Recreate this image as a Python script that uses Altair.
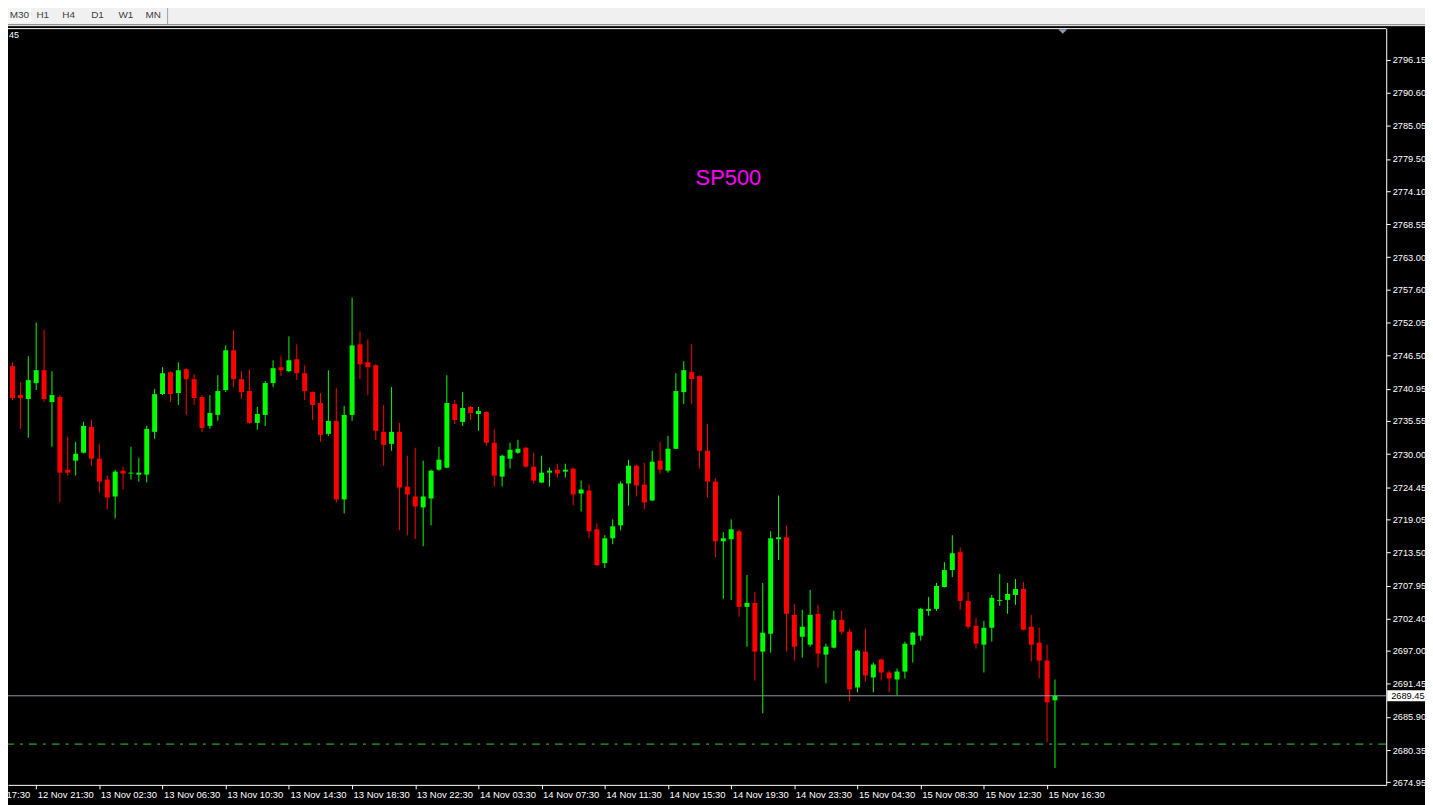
import altair as alt
import pandas as pd

# ---------------- data ----------------
opens = [2744.73, 2739.89, 2739.23, 2741.90, 2744.06, 2738.73, 2739.56, 2727.38, 2728.89, 2730.22,
         2734.56, 2729.22, 2725.72, 2722.88, 2727.22, 2726.72, 2726.55, 2726.55, 2733.72, 2740.06,
         2743.73, 2740.23, 2744.23, 2742.56, 2739.56, 2734.72, 2736.56, 2740.73, 2747.40, 2742.56,
         2740.56, 2735.22, 2736.56, 2741.90, 2744.56, 2743.90, 2745.90, 2743.56, 2740.39, 2738.56,
         2733.39, 2735.56, 2722.38, 2736.56, 2748.40, 2745.40, 2744.90, 2733.72, 2731.72, 2733.72,
         2724.55, 2722.88, 2721.05, 2722.55, 2727.38, 2727.72, 2738.39, 2735.39, 2737.89, 2736.72,
         2737.06, 2731.89, 2726.22, 2729.22, 2730.22, 2731.05, 2727.88, 2725.22, 2726.88, 2727.38,
         2727.05, 2727.55, 2723.38, 2723.88, 2717.38, 2711.70, 2715.87, 2718.04, 2725.05, 2728.05,
         2724.88, 2722.21, 2728.89, 2727.22, 2730.89, 2740.39, 2743.73, 2743.06, 2730.55, 2725.38,
         2715.37, 2715.71, 2717.04, 2704.37, 2705.03, 2696.86, 2699.86, 2715.71, 2716.04, 2703.03,
         2699.36, 2698.03, 2703.20, 2696.36, 2697.53, 2702.20, 2700.20, 2690.85, 2696.86, 2692.52,
         2695.53, 2693.36, 2692.19, 2693.52, 2698.03, 2699.53, 2703.70, 2704.03, 2707.70, 2710.54,
         2713.54, 2705.37, 2701.20, 2698.03, 2700.86, 2705.37, 2705.53, 2706.37, 2707.37, 2701.03,
         2698.36, 2695.36, 2688.69]
highs = [2745.40, 2742.06, 2746.40, 2752.07, 2750.90, 2743.90, 2739.89, 2732.89, 2732.05, 2735.39,
         2735.72, 2731.72, 2726.38, 2727.38, 2727.88, 2731.22, 2729.39, 2734.72, 2740.90, 2744.56,
         2743.90, 2745.40, 2744.40, 2743.40, 2739.89, 2739.89, 2743.23, 2748.23, 2750.74, 2743.90,
         2744.23, 2737.89, 2742.23, 2745.73, 2746.40, 2749.74, 2748.40, 2744.90, 2740.50, 2740.23,
         2744.06, 2741.06, 2738.06, 2756.24, 2750.57, 2749.23, 2745.06, 2738.23, 2741.23, 2735.22,
         2729.72, 2731.05, 2728.89, 2727.38, 2731.22, 2743.23, 2739.06, 2740.39, 2738.06, 2737.89,
         2737.20, 2734.22, 2729.89, 2731.89, 2732.39, 2731.22, 2730.22, 2729.72, 2727.72, 2728.38,
         2728.38, 2727.72, 2725.55, 2724.88, 2718.38, 2716.38, 2719.04, 2725.38, 2729.05, 2728.20,
         2728.55, 2730.55, 2732.05, 2733.06, 2743.56, 2745.57, 2748.40, 2743.23, 2735.06, 2725.88,
         2716.88, 2719.04, 2717.38, 2709.70, 2706.87, 2708.37, 2717.04, 2723.05, 2718.04, 2704.87,
         2703.87, 2707.20, 2704.70, 2698.19, 2703.70, 2703.70, 2700.70, 2697.20, 2700.70, 2695.02,
         2695.70, 2693.70, 2694.02, 2698.53, 2700.20, 2704.20, 2706.03, 2708.37, 2711.87, 2716.38,
         2714.37, 2706.87, 2702.53, 2702.03, 2706.37, 2709.87, 2708.37, 2709.04, 2708.54, 2703.03,
         2700.86, 2698.03, 2692.19]
lows = [2739.06, 2734.22, 2732.72, 2740.73, 2738.73, 2731.22, 2721.88, 2726.38, 2726.38, 2730.10,
        2728.05, 2723.55, 2720.71, 2719.21, 2724.05, 2725.72, 2725.38, 2725.22, 2732.55, 2739.89,
        2738.73, 2738.23, 2736.56, 2738.23, 2733.72, 2734.22, 2735.56, 2740.39, 2741.23, 2739.23,
        2735.10, 2734.06, 2734.72, 2741.23, 2743.06, 2743.73, 2742.40, 2739.06, 2735.72, 2732.05,
        2733.06, 2721.88, 2720.04, 2735.56, 2742.56, 2739.89, 2732.39, 2728.05, 2730.55, 2717.21,
        2716.38, 2715.71, 2714.54, 2718.04, 2727.20, 2727.60, 2735.06, 2734.72, 2735.72, 2733.89,
        2731.39, 2724.55, 2724.55, 2727.55, 2730.05, 2727.72, 2725.05, 2725.10, 2724.55, 2726.05,
        2726.05, 2721.38, 2720.38, 2715.87, 2711.20, 2710.87, 2714.87, 2717.21, 2721.38, 2722.88,
        2720.71, 2722.10, 2726.72, 2726.88, 2730.80, 2738.39, 2738.39, 2727.55, 2722.71, 2712.71,
        2705.70, 2705.53, 2702.70, 2697.69, 2692.02, 2686.52, 2696.69, 2712.21, 2696.86, 2695.36,
        2695.86, 2697.69, 2694.19, 2691.52, 2697.40, 2699.70, 2688.52, 2690.02, 2691.86, 2690.02,
        2692.02, 2690.02, 2689.52, 2692.36, 2695.02, 2698.70, 2702.87, 2703.70, 2707.60, 2709.37,
        2703.87, 2700.70, 2697.36, 2693.36, 2698.53, 2704.53, 2703.20, 2704.70, 2700.40, 2695.19,
        2692.36, 2681.68, 2677.34]
closes = [2739.39, 2739.39, 2742.40, 2744.06, 2739.23, 2739.89, 2726.88, 2726.88, 2730.05, 2734.72,
          2729.22, 2725.38, 2722.71, 2727.05, 2726.72, 2726.88, 2726.88, 2734.22, 2740.06, 2743.56,
          2740.06, 2744.06, 2742.56, 2739.39, 2734.39, 2736.89, 2740.56, 2747.40, 2742.56, 2740.39,
          2735.22, 2736.72, 2741.90, 2744.40, 2744.06, 2745.73, 2743.56, 2740.56, 2738.23, 2733.22,
          2735.56, 2722.38, 2736.56, 2748.23, 2745.06, 2744.56, 2733.89, 2731.55, 2733.72, 2724.38,
          2723.21, 2721.21, 2722.88, 2727.22, 2729.05, 2738.56, 2735.72, 2737.73, 2736.89, 2737.23,
          2731.89, 2726.38, 2729.72, 2730.72, 2730.89, 2727.88, 2725.55, 2726.88, 2727.22, 2726.72,
          2727.38, 2723.21, 2724.05, 2717.04, 2711.37, 2715.87, 2717.88, 2725.05, 2728.05, 2724.72,
          2721.88, 2728.72, 2727.38, 2730.89, 2740.56, 2744.06, 2742.56, 2730.55, 2725.38, 2715.37,
          2715.87, 2717.38, 2704.37, 2705.03, 2696.86, 2700.03, 2715.87, 2716.04, 2703.20, 2697.69,
          2701.03, 2703.03, 2696.53, 2697.69, 2702.20, 2700.20, 2690.52, 2697.03, 2692.86, 2694.69,
          2693.36, 2692.36, 2693.52, 2698.19, 2700.03, 2704.03, 2704.03, 2707.87, 2710.54, 2713.37,
          2705.37, 2701.03, 2698.19, 2700.86, 2705.87, 2705.53, 2706.53, 2707.37, 2700.53, 2698.03,
          2695.36, 2688.35, 2689.45]

time_label_index = [3, 11, 19, 27, 35, 43, 51, 59, 67, 75, 83, 91, 99, 107, 115, 123, 131]
time_labels = ["12 Nov 21:30", "13 Nov 02:30", "13 Nov 06:30", "13 Nov 10:30", "13 Nov 14:30",
               "13 Nov 18:30", "13 Nov 22:30", "14 Nov 03:30", "14 Nov 07:30", "14 Nov 11:30",
               "14 Nov 15:30", "14 Nov 19:30", "14 Nov 23:30", "15 Nov 04:30", "15 Nov 08:30",
               "15 Nov 12:30", "15 Nov 16:30"]
first_label_index = [-5]
first_label = ["12 Nov 17:30"]

price_ticks = [2796.15, 2790.60, 2785.05, 2779.50, 2774.10, 2768.55, 2763.00, 2757.60, 2752.05,
               2746.50, 2740.95, 2735.55, 2730.00, 2724.45, 2719.05, 2713.50, 2707.95, 2702.40,
               2697.00, 2691.45, 2685.90, 2680.35, 2674.95]
current_price = [2689.45]
level_price = [2681.35]
symbol_title = ["SP500"]
corner_text = ["45"]
timeframes = ["M30", "H1", "H4", "D1", "W1", "MN"]

# ---------------- layout ----------------
W, H = 1386, 761
PAD = {"left": 0, "top": 18, "right": 39, "bottom": 18}
FULL_W = W + PAD["left"] + PAD["right"]
FONT = "Liberation Sans"

candles = pd.DataFrame({
    "i": list(range(len(opens))),
    "o": opens, "h": highs, "l": lows, "c": closes,
})
candles["dir"] = ["up" if c >= o else "down" for o, c in zip(opens, closes)]

xscale = alt.Scale(domain=[0.0625, 0.0625 + W / 8], nice=False, zero=False)
yscale = alt.Scale(domain=[2674.51, 2801.44], nice=False, zero=False)
color = alt.Color("dir:N", scale=alt.Scale(domain=["up", "down"], range=["#00ff00", "#ff0000"]),
                  legend=None)

arr_idx = "[" + ",".join(str(v) for v in time_label_index) + "]"
arr_lab = "[" + ",".join("'" + s + "'" for s in time_labels) + "]"
xaxis = alt.Axis(orient="bottom", values=time_label_index,
                 labelExpr=f"{arr_lab}[indexof({arr_idx}, datum.value)]",
                 tickSize=4, tickColor="#ffffff", domainColor="#ffffff", labelColor="#ffffff",
                 labelFont=FONT, labelFontSize=9.5, labelAlign="left", labelBaseline="top",
                 labelPadding=1, labelOffset=1, grid=False, title=None, labelFlush=False,
                 labelOverlap=False, labelBound=False)
yaxis = alt.Axis(orient="right", values=price_ticks, format=".2f", tickSize=4,
                 tickColor="#ffffff", domainColor="#ffffff", labelColor="#ffffff",
                 labelFont=FONT, labelFontSize=9.3, labelPadding=2, grid=False, title=None,
                 labelOverlap=False, labelFlush=False, labelBound=False)

X = alt.X("i:Q", scale=xscale, axis=xaxis)

wicks = alt.Chart(candles).mark_rule(strokeWidth=1, clip=True).encode(
    x=X,
    y=alt.Y("l:Q", scale=yscale, axis=yaxis),
    y2="h:Q",
    color=color,
)
bodies = alt.Chart(candles).mark_bar(size=5, clip=True).encode(
    x=X,
    y=alt.Y("o:Q", scale=yscale, axis=yaxis),
    y2="c:Q",
    color=color,
)

cur_df = pd.DataFrame({"p": current_price, "t": [f"{v:.2f}" for v in current_price]})
lvl_df = pd.DataFrame({"p": level_price})

cur_line = alt.Chart(cur_df).mark_rule(color="#8f98a2", strokeWidth=1).encode(
    y=alt.Y("p:Q", scale=yscale, axis=yaxis))
lvl_line = alt.Chart(lvl_df).mark_rule(color="#32cd32", strokeWidth=1,
                                        strokeDash=[8, 6, 3, 6]).encode(
    y=alt.Y("p:Q", scale=yscale, axis=yaxis))
cur_box = alt.Chart(cur_df).mark_point(
    shape="M-1,-0.29L1,-0.29L1,0.29L-1,0.29Z", filled=True, opacity=1, size=38 * 38,
    color="#ffffff", strokeWidth=0).encode(
    x=alt.value(W + 20), y=alt.Y("p:Q", scale=yscale, axis=yaxis))
cur_text = alt.Chart(cur_df).mark_text(
    align="left", baseline="middle", font=FONT, fontSize=9.3, color="#000000").encode(
    x=alt.value(W + 5), y=alt.Y("p:Q", scale=yscale, axis=yaxis), text="t:N")

first_df = pd.DataFrame({"i": first_label_index, "t": first_label})
first_text = alt.Chart(first_df).mark_text(
    align="left", baseline="top", font=FONT, fontSize=9.5, color="#ffffff", dx=1).encode(
    x=X, y=alt.value(H + 5), text="t:N")

one = pd.DataFrame({"k": [0]})
top_border = alt.Chart(one).mark_rule(color="#ffffff", strokeWidth=1).encode(
    x=alt.value(0), x2=alt.value(W), y=alt.value(0.5))

title_df = pd.DataFrame({"t": symbol_title})
title = alt.Chart(title_df).mark_text(
    font=FONT, fontSize=22, color="#ff00ff", align="center", baseline="middle").encode(
    x=alt.value(724.5), y=alt.value(151), text="t:N")

corner_df = pd.DataFrame({"t": corner_text})
corner = alt.Chart(corner_df).mark_text(
    font=FONT, fontSize=9, color="#ffffff", align="left", baseline="middle").encode(
    x=alt.value(1), y=alt.value(7), text="t:N")

shift_marker = alt.Chart(one).mark_point(
    shape="M-1,-0.5L1,-0.5L0,0.5Z", filled=True, opacity=1, size=81, color="#8a9aab",
    strokeWidth=0).encode(x=alt.value(1060.7), y=alt.value(3.3))

# toolbar
toolbar_bg = alt.Chart(one).mark_rect(color="#f0f0f0").encode(
    x=alt.value(-10), x2=alt.value(FULL_W + 10), y=alt.value(-40), y2=alt.value(-4))
toolbar_btn = alt.Chart(one).mark_rect(fill="#f4f4f4", stroke="#ffffff", strokeWidth=1).encode(
    x=alt.value(-8), x2=alt.value(22.5), y=alt.value(-30), y2=alt.value(-6.5))
toolbar_line = alt.Chart(one).mark_rule(color="#a0a0a0", strokeWidth=1).encode(
    x=alt.value(-10), x2=alt.value(FULL_W + 10), y=alt.value(-3.5))
toolbar_line2 = alt.Chart(one).mark_rule(color="#ffffff", strokeWidth=1).encode(
    x=alt.value(-10), x2=alt.value(FULL_W + 10), y=alt.value(-2.5))
toolbar_sep = alt.Chart(one).mark_rule(color="#a0a0a0", strokeWidth=1).encode(
    x=alt.value(160.5), y=alt.value(-30), y2=alt.value(-4))
tf_df = pd.DataFrame({"t": timeframes, "xp": [11.5, 35, 61, 90, 118.5, 146]})
tf_text = alt.Chart(tf_df).mark_text(
    font=FONT, fontSize=10, color="#404040", align="center", baseline="middle").encode(
    x=alt.X("xp:Q", scale=None), y=alt.value(-13), text="t:N")

chart = alt.layer(
    toolbar_bg, toolbar_btn, toolbar_line, toolbar_line2, toolbar_sep, tf_text,
    wicks, bodies, cur_line, lvl_line, top_border, title, corner, shift_marker,
    cur_box, cur_text, first_text,
).properties(
    width=W, height=H, padding=PAD,
    autosize=alt.AutoSizeParams(type="none"),
    background="#000000",
).configure_view(strokeWidth=0, stroke="transparent")

chart.save("out.html", embed_options={"renderer": "svg", "actions": False})
